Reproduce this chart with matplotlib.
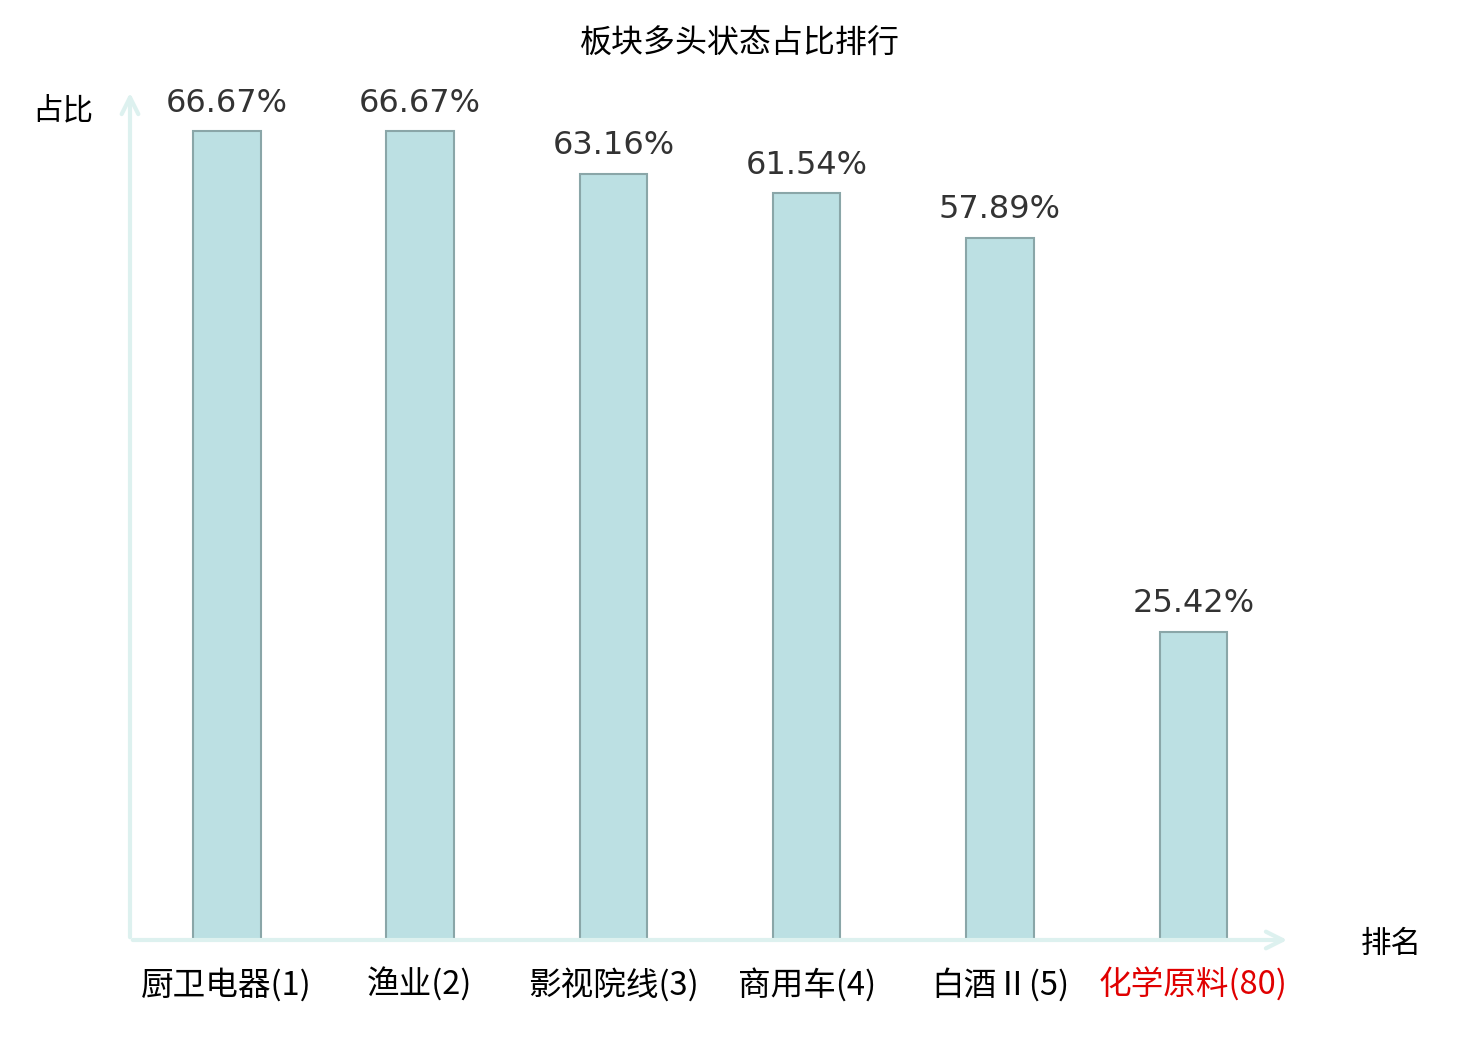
import matplotlib
matplotlib.use("Agg")
import matplotlib.pyplot as plt

# Data
sectors = ["厨卫电器", "渔业", "影视院线", "商用车", "白酒Ⅱ", "化学原料"]
ranks = [1, 2, 3, 4, 5, 80]
ratios = [66.67, 66.67, 63.16, 61.54, 57.89, 25.42]

cjk = ["Noto Sans CJK SC", "DejaVu Sans"]
plt.rcParams['font.family'] = cjk

fig = plt.figure(figsize=(14.8, 10.4), dpi=100)
ax = fig.add_axes([130 / 1480, 100 / 1040, 1160 / 1480, 850 / 1040])

x = list(range(len(sectors)))
ax.bar(x, ratios, width=0.35, color="#bce0e3", edgecolor="#8aa6a8", linewidth=1.5)

for xi, v in zip(x, ratios):
    ax.annotate(f"{v:.2f}%", (xi, v), xytext=(0, 9), textcoords="offset points",
                ha="center", va="bottom", fontsize=23, color="#333333",
                family="DejaVu Sans")

ax.set_xlim(-0.5, 5.5)
ax.set_ylim(0, 70.07)
for s in ax.spines.values():
    s.set_visible(False)
ax.set_yticks([])
ax.set_xticks(x)
ax.set_xticklabels([f"{n}({r})" for n, r in zip(sectors, ranks)], fontsize=23.5)
ax.tick_params(axis="x", length=0, pad=20)
ax.get_xticklabels()[-1].set_color("#e00000")

# axis arrows
axis_color = "#ddf1ef"
ax.annotate("", xy=(1.0, 0), xytext=(0, 0), xycoords="axes fraction",
            arrowprops=dict(arrowstyle="->", color=axis_color, lw=3,
                            mutation_scale=30), annotation_clip=False)
ax.annotate("", xy=(0, 1.0), xytext=(0, 0), xycoords="axes fraction",
            arrowprops=dict(arrowstyle="->", color=axis_color, lw=3,
                            mutation_scale=30), annotation_clip=False)

fig.text(1391 / 1480, 1 - 944 / 1040, "排名", ha="center", va="center", fontsize=22)
fig.text(63 / 1480, 1 - 111 / 1040, "占比", ha="center", va="center", fontsize=22)
fig.text(740 / 1480, 1 - 44 / 1040, "板块多头状态占比排行", ha="center", va="center", fontsize=23)

fig.savefig("out.png", dpi=100)
